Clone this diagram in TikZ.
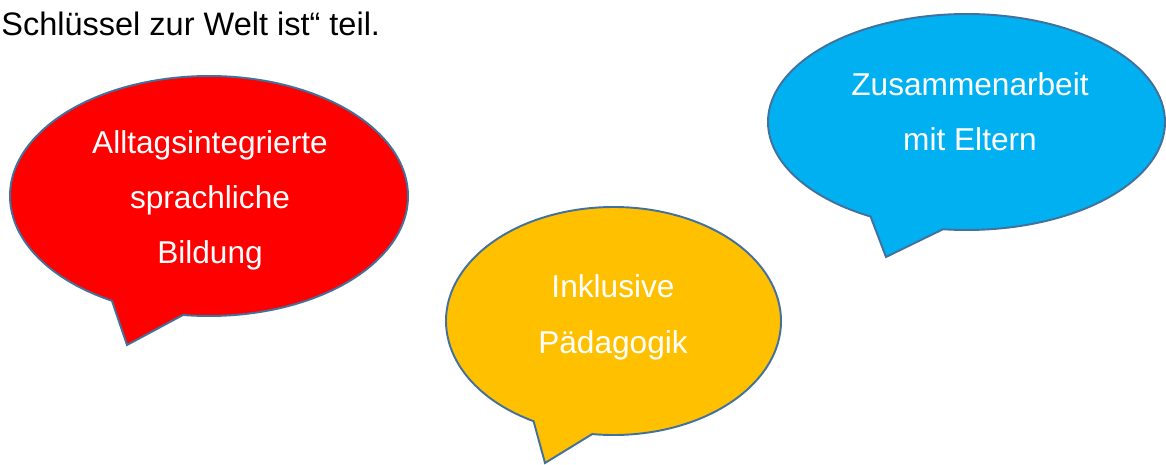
\documentclass[tikz,border=0pt]{standalone}
\usepackage{fontspec}
\setmainfont{Liberation Sans}
\usetikzlibrary{calc}
\definecolor{bubblered}{HTML}{FF0000}
\definecolor{bubbleyellow}{HTML}{FFC000}
\definecolor{bubbleblue}{HTML}{00B0F0}
\definecolor{rimblue}{HTML}{41719C}
\def\speechbubble[#1](#2)(#3:#4:#5:#6)(#7){\filldraw[#1] ($(#2)+({#5*cos(#3)},{#6*sin(#3)})$) arc[start angle=#3, end angle=#4+360, x radius=#5, y radius=#6] -- (#7) -- cycle;}
\tikzset{
	bubble/.style={draw=rimblue, line width=1.1pt, line join=miter},
	bubbletext/.style={text=white, font=\fontsize{18}{22}\selectfont, anchor=base, inner sep=0pt}
}

\begin{document}
\begin{tikzpicture}[x=0.02cm, y=-0.02cm]
			%%%%% START %%%%%
			\useasboundingbox (0, 0) rectangle (1166, 464);
			
			\node[anchor=base west, inner sep=0pt, font=\fontsize{18.5}{22}\selectfont] (intro) at (1, 35) {Schlüssel zur Welt ist“ teil.};
			
			\speechbubble[bubble, fill=bubblered](209, 196)(119.2:97.5:199:120)(127, 345)
			\node[bubbletext] (red1) at (210, 153) {Alltagsintegrierte};
			\node[bubbletext] (red2) at (210, 208) {sprachliche};
			\node[bubbletext] (red3) at (210, 263) {Bildung};
			
			\speechbubble[bubble, fill=bubbleyellow](613.5, 321)(118.5:97.3:167.5:114)(545, 463)
			\node[bubbletext] (yellow1) at (613, 297) {Inklusive};
			\node[bubbletext] (yellow2) at (613, 353) {Pädagogik};
			
			\speechbubble[bubble, fill=bubbleblue](966.5, 122)(118.9:96.8:198.5:108)(886, 257)
			\node[bubbletext] (blue1) at (970, 95) {Zusammenarbeit};
			\node[bubbletext] (blue2) at (970, 150) {mit Eltern};
			
			%%%%% END %%%%%
		\end{tikzpicture}
\end{document}
